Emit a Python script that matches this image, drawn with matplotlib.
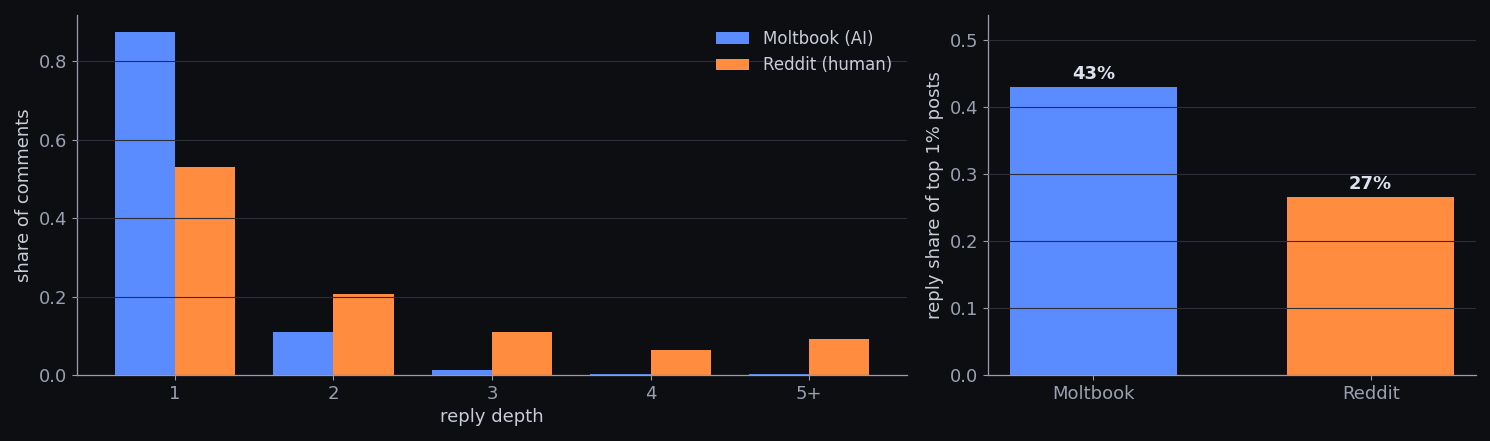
import numpy as np
import matplotlib.pyplot as plt

# reply depth distribution
depths = ['1', '2', '3', '4', '5+']
moltbook_share = [0.874, 0.110, 0.013, 0.003, 0.003]
reddit_share = [0.530, 0.206, 0.110, 0.064, 0.092]

# reply share of top 1% posts
platforms = ['Moltbook', 'Reddit']
top_share = [0.430, 0.266]
top_labels = ['43%', '27%']

BG = '#0d0e12'
BLUE = '#5b8cff'
ORANGE = '#ff8c3f'
TICK = '#9aa0b0'
LABEL = '#c9cdd8'
SPINE = '#9a9eaa'
GRID = '#2c2e38'

plt.rcParams['font.family'] = 'DejaVu Sans'
fig = plt.figure(figsize=(14.9, 4.41), dpi=100, facecolor=BG)
ax1 = fig.add_axes([0.0517, 0.1497, 0.557, 0.816])
ax2 = fig.add_axes([0.6631, 0.1497, 0.3275, 0.816])

def style(ax):
    ax.set_facecolor(BG)
    for s in ['top', 'right']:
        ax.spines[s].set_visible(False)
    for s in ['left', 'bottom']:
        ax.spines[s].set_color(SPINE)
        ax.spines[s].set_linewidth(0.9)
    ax.tick_params(colors=SPINE, labelcolor=TICK, labelsize=13)
    ax.yaxis.grid(True, color=GRID, linewidth=0.8, zorder=3)
    ax.set_axisbelow(False)

x = np.arange(len(depths))
w = 0.38
ax1.bar(x - w / 2, moltbook_share, w, color=BLUE, label='Moltbook (AI)', zorder=2)
ax1.bar(x + w / 2, reddit_share, w, color=ORANGE, label='Reddit (human)', zorder=2)
ax1.set_xticks(x)
ax1.set_xticklabels(depths)
ax1.set_yticks([0.0, 0.2, 0.4, 0.6, 0.8])
ax1.set_xlabel('reply depth', color=LABEL, fontsize=13)
ax1.set_ylabel('share of comments', color=LABEL, fontsize=13)
style(ax1)
leg = ax1.legend(frameon=False, fontsize=12, loc='upper right', labelcolor=LABEL)

xp = np.arange(len(platforms))
ax2.bar(xp, top_share, 0.6, color=[BLUE, ORANGE], zorder=2)
for i, v in enumerate(top_share):
    ax2.text(xp[i], v + 0.006, top_labels[i], ha='center', va='bottom',
             color='#dde1ec', fontsize=13, fontweight='bold', zorder=4)
ax2.set_xticks(xp)
ax2.set_xticklabels(platforms)
ax2.set_ylim(0, max(top_share) * 1.25)
ax2.set_ylabel('reply share of top 1% posts', color=LABEL, fontsize=13)
style(ax2)

fig.savefig('out.png', dpi=100, facecolor=BG)
